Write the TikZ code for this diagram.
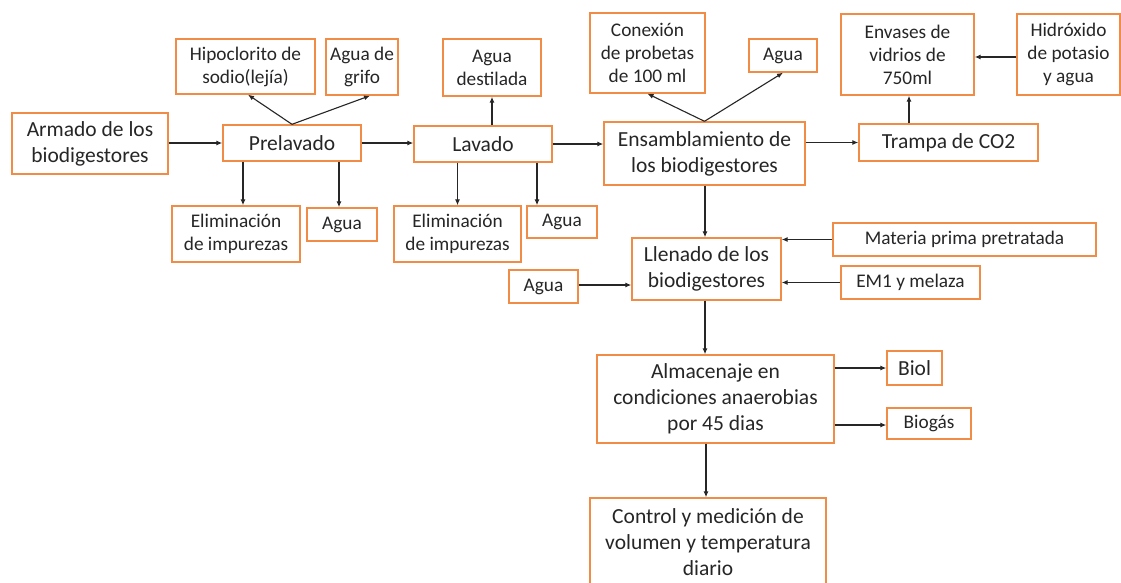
\documentclass[tikz,border=0pt]{standalone}
\usepackage{fontspec}
\setmainfont{Carlito}
\usetikzlibrary{arrows.meta,calc}
\definecolor{boxorange}{RGB}{240,140,70}
\definecolor{inkgray}{RGB}{38,38,38}
\tikzset{
  pbox/.style={draw=boxorange, line width=1.4pt, inner sep=0pt, align=center, text=inkgray},
  bigtxt/.style={font=\fontsize{21.5}{26}\selectfont},
  smalltxt/.style={font=\fontsize{19.3}{23}\selectfont},
  conn/.style={draw=inkgray, line width=1.1pt, -{Latex[length=6pt,width=5pt]}},
}
\begin{document}
\begin{tikzpicture}[x=1pt,y=-1pt]
\useasboundingbox[fill=white] (0,0) rectangle (1121,582);
% nodes
\node[pbox,bigtxt,minimum width=156pt,minimum height=61pt] (armado) at (90,143.5) {Armado de los\\biodigestores};
\node[pbox,smalltxt,minimum width=139pt,minimum height=55pt] (hipo) at (245.5,66.5) {Hipoclorito de\\sodio(lejía)};
\node[pbox,smalltxt,minimum width=72pt,minimum height=56pt] (grifo) at (362,67) {Agua de\\grifo};
\node[pbox,bigtxt,minimum width=138pt,minimum height=36pt] (prelav) at (292,143) {Prelavado};
\node[pbox,smalltxt,minimum width=128pt,minimum height=56pt] (elimA) at (236,234) {Eliminación\\de impurezas};
\node[pbox,smalltxt,minimum width=70pt,minimum height=33pt] (aguaA) at (342,224.5) {Agua};
\node[pbox,smalltxt,minimum width=98pt,minimum height=57pt] (destil) at (492,67.5) {Agua\\destilada};
\node[pbox,bigtxt,minimum width=138pt,minimum height=36pt] (lavado) at (483,144) {Lavado};
\node[pbox,smalltxt,minimum width=127pt,minimum height=56pt] (elimB) at (457.5,234) {Eliminación\\de impurezas};
\node[pbox,smalltxt,minimum width=70pt,minimum height=32pt] (aguaB) at (562,222) {Agua};
\node[pbox,smalltxt,minimum width=115pt,minimum height=80pt] (conex) at (647.5,53) {Conexión\\de probetas\\de 100 ml};
\node[pbox,smalltxt,minimum width=68pt,minimum height=33pt] (aguaC) at (783,55.5) {Agua};
\node[pbox,bigtxt,minimum width=201pt,minimum height=63pt] (ensamb) at (704.5,153.5) {Ensamblamiento de\\los biodigestores};
\node[pbox,bigtxt,minimum width=179pt,minimum height=37pt] (trampa) at (948.5,142.5) {Trampa de CO2};
\node[pbox,smalltxt,minimum width=133pt,minimum height=81pt] (envases) at (907.5,54.5) {Envases de\\vidrios de\\750ml};
\node[pbox,smalltxt,minimum width=103pt,minimum height=81pt] (hidrox) at (1068.5,54.5) {Hidróxido\\de potasio\\y agua};
\node[pbox,bigtxt,minimum width=149pt,minimum height=62pt] (llenado) at (706.5,269) {Llenado de los\\biodigestores};
\node[pbox,smalltxt,minimum width=263pt,minimum height=33pt] (materia) at (964.5,239.5) {Materia prima pretratada};
\node[pbox,smalltxt,minimum width=139pt,minimum height=33pt] (emuno) at (910.5,282.5) {EM1 y melaza};
\node[pbox,smalltxt,minimum width=69pt,minimum height=33pt] (aguaD) at (543.5,286.5) {Agua};
\node[pbox,bigtxt,minimum width=237pt,minimum height=88pt] (almac) at (715.5,399) {Almacenaje en\\condiciones anaerobias\\por 45 dias};
\node[pbox,bigtxt,minimum width=55pt,minimum height=34pt] (biol) at (914.5,368) {Biol};
\node[pbox,smalltxt,minimum width=84pt,minimum height=31pt] (biogas) at (929,423.5) {Biogás};
\node[pbox,bigtxt,minimum width=236pt,minimum height=88pt] (control) at (708,542) {Control y medición de\\volumen y temperatura\\diario};
% connectors
\draw[conn] (armado.east |- prelav.west) -- (prelav.west);
\draw[conn] (prelav.north) -- ([xshift=2.5pt]hipo.south);
\draw[conn] (prelav.north) -- ([xshift=8pt]grifo.south);
\draw[conn] ([xshift=-49pt]prelav.south) -- ([xshift=-49pt]prelav.south |- elimA.north);
\draw[conn] ([xshift=-3pt]aguaA.north |- prelav.south) -- ([xshift=-3pt]aguaA.north);
\draw[conn] (prelav.east) -- (prelav.east -| lavado.west);
\draw[conn] (destil.south |- lavado.north) -- (destil.south);
\draw[conn] (elimB.north |- lavado.south) -- (elimB.north);
\draw[conn] ([xshift=54pt]lavado.south) -- ([xshift=54pt]lavado.south |- aguaB.north);
\draw[conn] (lavado.east) -- (lavado.east -| ensamb.west);
\draw[conn] (ensamb.north) -- (conex.south);
\draw[conn] (ensamb.north) -- (aguaC.south);
\draw[conn] (ensamb.east |- trampa.west) -- (trampa.west);
\draw[conn] ([xshift=1.5pt]envases.south |- trampa.north) -- ([xshift=1.5pt]envases.south);
\draw[conn] ([yshift=-2.5pt]hidrox.west) -- ([yshift=-2.5pt]hidrox.west -| envases.east);
\draw[conn] ([xshift=-1.5pt]llenado.north |- ensamb.south) -- ([xshift=-1.5pt]llenado.north);
\draw[conn] (materia.west) -- (materia.west -| llenado.east);
\draw[conn] (emuno.west) -- (emuno.west -| llenado.east);
\draw[conn] ([yshift=1.5pt]aguaD.east) -- ([yshift=1.5pt]aguaD.east -| llenado.west);
\draw[conn] ([xshift=-1.5pt]llenado.south) -- ([xshift=-1.5pt]llenado.south |- almac.north);
\draw[conn] (biol.west -| almac.east) -- (biol.west);
\draw[conn] ([yshift=-1.5pt]biogas.west -| almac.east) -- ([yshift=-1.5pt]biogas.west);
\draw[conn] ([xshift=-2pt]control.north |- almac.south) -- ([xshift=-2pt]control.north);
\end{tikzpicture}
\end{document}
